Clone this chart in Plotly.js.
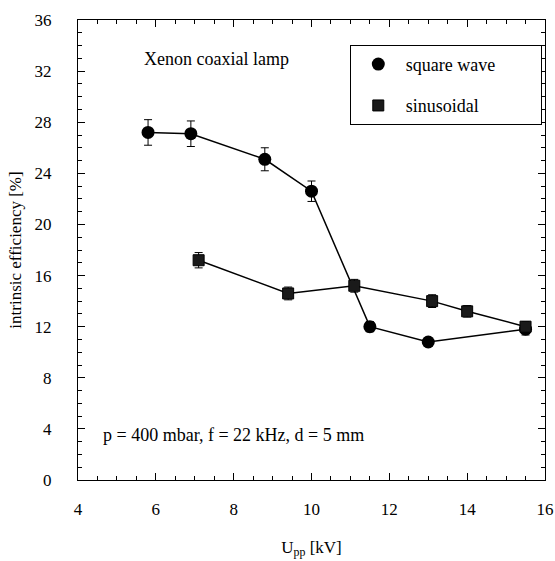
<!DOCTYPE html>
<html><head><meta charset="utf-8">
<script src="https://cdn.plot.ly/plotly-3.0.1.min.js"></script>
<style>body{margin:0;background:#fff}#c{width:555px;height:561px}</style>
</head><body><div id="c"></div>
<script>
const squareX = [5.8, 6.9, 8.8, 10.0, 11.5, 13.0, 15.5];
const squareY = [27.2, 27.1, 25.1, 22.6, 12.0, 10.8, 11.8];
const squareErr = [1.0, 1.0, 0.9, 0.8, 0.4, 0.35, 0.45];
const sinX = [7.1, 9.4, 11.1, 13.1, 14.0, 15.5];
const sinY = [17.2, 14.6, 15.2, 14.0, 13.2, 12.0];
const sinErr = [0.6, 0.5, 0.5, 0.5, 0.45, 0.4];
const xTicks = [4, 6, 8, 10, 12, 14, 16];
const yTicks = [0, 4, 8, 12, 16, 20, 24, 28, 32, 36];

const fam = '"Times New Roman", "Liberation Serif", "DejaVu Serif", serif';
const font = {family: fam, color: '#000', size: 17};

const traces = [
  {x: squareX, y: squareY, mode: 'lines', showlegend: false, hoverinfo: 'skip',
   line: {color: '#000', width: 1.5}},
  {x: sinX, y: sinY, mode: 'lines', showlegend: false, hoverinfo: 'skip',
   line: {color: '#000', width: 1.5}},
  {x: squareX, y: squareY, name: 'square wave\u00a0\u00a0\u00a0\u00a0\u00a0\u00a0\u00a0\u00a0\u00a0', mode: 'markers', legendgroup: 'a',
   marker: {symbol: 'circle', size: 13, color: '#000'},
   error_y: {type: 'data', array: squareErr, color: '#000', thickness: 1, width: 4}},
  {x: sinX, y: sinY, name: 'sinusoidal', mode: 'markers', legendgroup: 'b',
   marker: {symbol: 'square', size: 11, color: '#1a1a1a', line: {color: '#000', width: 1}},
   error_y: {type: 'data', array: sinErr, color: '#000', thickness: 1, width: 4}}
];

const axisCommon = {showline: true, mirror: 'allticks', linecolor: '#000', linewidth: 1,
  ticks: 'inside', ticklen: 7, tickcolor: '#000', showgrid: false, zeroline: false,
  tickfont: font};

const layout = {
  width: 555, height: 561,
  margin: {l: 78, r: 10, t: 20, b: 81},
  paper_bgcolor: '#fff', plot_bgcolor: '#fff',
  font: font,
  xaxis: Object.assign({}, axisCommon, {range: [4, 16], tickvals: xTicks, ticklabelstandoff: 14,
    minor: {dtick: 0.5, ticklen: 4, tickcolor: '#000', ticks: 'inside'},
    title: {text: 'U<sub>pp</sub> [kV]', font: font, standoff: 22}}),
  yaxis: Object.assign({}, axisCommon, {range: [0, 36], tickvals: yTicks, ticklabelstandoff: 22,
    minor: {dtick: 1, ticklen: 4, tickcolor: '#000', ticks: 'inside'},
    title: {text: 'intrinsic efficiency [%]', font: font, standoff: 8}}),
  legend: {x: 0.582, y: 0.946, xanchor: 'left', yanchor: 'top', bordercolor: '#000', borderwidth: 1,
    bgcolor: '#fff', font: {family: fam, size: 18, color: '#000'},
    traceorder: 'grouped', tracegroupgap: 15, itemwidth: 45},
  showlegend: true,
  annotations: [
    {text: 'Xenon coaxial lamp', xref: 'paper', yref: 'paper', x: 0.137, y: 0.915,
     xanchor: 'left', yanchor: 'middle', showarrow: false, font: {family: fam, size: 18, color: '#000'}},
    {text: 'p = 400 mbar, f = 22 kHz, d = 5 mm', xref: 'paper', yref: 'paper', x: 0.05, y: 0.098,
     xanchor: 'left', yanchor: 'middle', showarrow: false, font: {family: fam, size: 18, color: '#000'}}
  ]
};

Plotly.newPlot('c', traces, layout, {displayModeBar: false, staticPlot: true});
</script></body></html>
